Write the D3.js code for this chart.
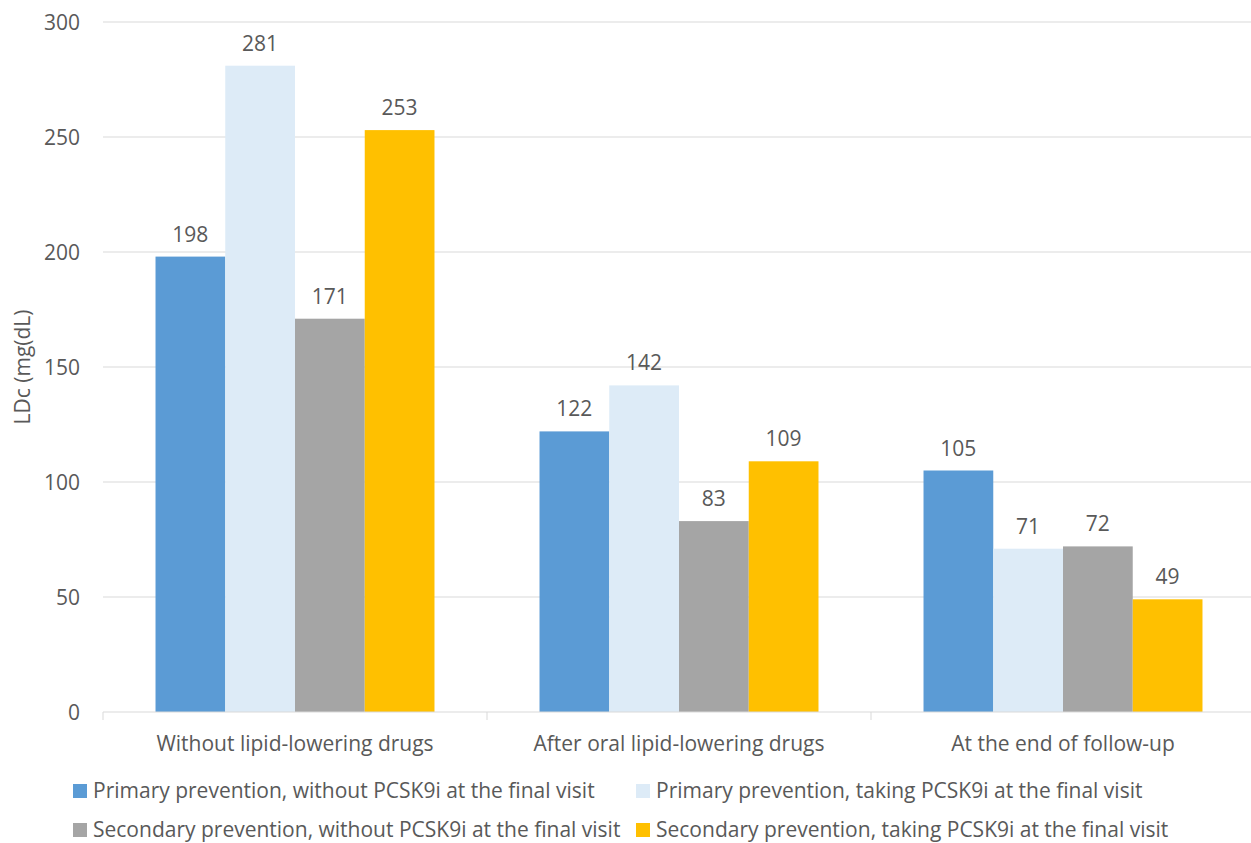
<!DOCTYPE html>
<html><head><meta charset="utf-8">
<script src="https://cdn.jsdelivr.net/npm/d3@7"></script>
<style>body{margin:0;background:#fff;} text{font-family:"Open Sans",sans-serif;fill:#595959;}</style>
</head><body>
<svg id="c" width="1251" height="843"></svg>
<script>
const categories = ["Without lipid-lowering drugs","After oral lipid-lowering drugs","At the end of follow-up"];
const seriesNames = ["Primary prevention, without PCSK9i at the final visit","Primary prevention, taking PCSK9i at the final visit","Secondary prevention, without PCSK9i at the final visit","Secondary prevention, taking PCSK9i at the final visit"];
const primaryWithout = [198,122,105];
const primaryTaking = [281,142,71];
const secondaryWithout = [171,83,72];
const secondaryTaking = [253,109,49];
const yTicks = [0,50,100,150,200,250,300];
const colors = ["#5B9BD5","#DDEBF7","#A5A5A5","#FFC000"];
const seriesValues = [primaryWithout,primaryTaking,secondaryWithout,secondaryTaking];

const FS = "21px";
const svg = d3.select("#c");
const L=103, R=1255, T=22, B=712;
const x = d3.scaleBand().domain(categories).range([L,R]).paddingInner(0).paddingOuter(0);
const x1 = d3.scaleBand().domain(d3.range(4)).range([0,x.bandwidth()]).paddingOuter(0.753).paddingInner(0);
const y = d3.scaleLinear().domain([0,300]).range([B,T]);

// gridlines
svg.append("g").selectAll("line").data(yTicks.filter(d=>d>0)).join("line")
  .attr("x1",L).attr("x2",R-2).attr("y1",d=>y(d)).attr("y2",d=>y(d))
  .attr("stroke","#d9d9d9").attr("stroke-width",1);

// y axis labels
const yAxis = d3.axisLeft(y).tickValues(yTicks).tickSize(0).tickPadding(0);
const yg = svg.append("g").attr("transform",`translate(80,0)`).call(yAxis);
yg.select(".domain").remove();
yg.selectAll("text").style("font-size",FS).attr("fill","#595959").attr("dy","0.35em");

// bars
const groups = svg.append("g").selectAll("g").data(categories).join("g")
  .attr("transform",d=>`translate(${x(d)},0)`);
groups.each(function(cat,ci){
  const g = d3.select(this);
  seriesValues.forEach((vals,si)=>{
    g.append("rect").attr("x",x1(si)).attr("width",x1.bandwidth())
      .attr("y",y(vals[ci])).attr("height",B-y(vals[ci])).attr("fill",colors[si]);
    g.append("text").attr("x",x1(si)+x1.bandwidth()/2).attr("y",y(vals[ci])-15)
      .attr("text-anchor","middle").style("font-size",FS).text(vals[ci]);
  });
});

// x axis
const xAxis = d3.axisBottom(x).tickSize(0).tickPadding(0).tickFormat(()=>"");
const xg = svg.append("g").attr("transform",`translate(0,${B})`).call(xAxis);
xg.select(".domain").attr("stroke","#d9d9d9").attr("d",`M${L},0H${R-2}`);
svg.append("g").selectAll("line").data([L,...categories.map(c=>x(c)+x.bandwidth())]).join("line")
  .attr("x1",d=>d).attr("x2",d=>d).attr("y1",B).attr("y2",B+8).attr("stroke","#d9d9d9");
svg.append("g").selectAll("text").data(categories).join("text")
  .attr("x",d=>x(d)+x.bandwidth()/2).attr("y",751).attr("text-anchor","middle")
  .style("font-size",FS).text(d=>d);

// y title
svg.append("text").attr("transform","translate(30,367) rotate(-90)").attr("text-anchor","middle")
  .style("font-size",FS).text("LDc (mg(dL)");

// legend
const legPos = [[73,798],[636,798],[73,837],[636,837]];
seriesNames.forEach((n,i)=>{
  const [lx,ly]=legPos[i];
  svg.append("rect").attr("x",lx).attr("y",ly-14).attr("width",14).attr("height",14).attr("fill",colors[i]);
  svg.append("text").attr("x",lx+20).attr("y",ly).style("font-size",FS).text(n);
});
</script>
</body></html>
